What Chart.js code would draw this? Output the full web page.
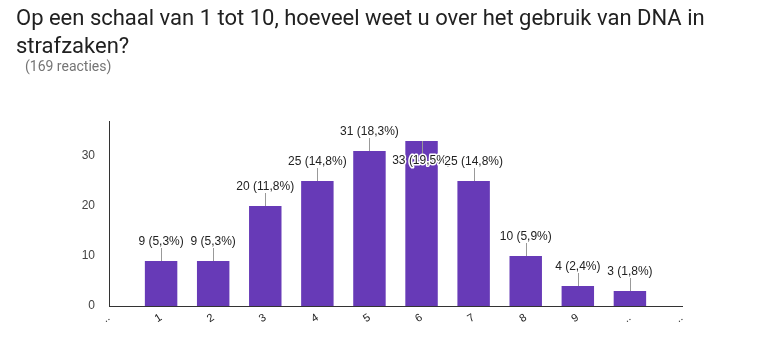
<!DOCTYPE html>
<html>
<head>
<meta charset="utf-8">
<script src="https://cdn.jsdelivr.net/npm/chart.js@4"></script>
<style>
  html, body { margin: 0; padding: 0; background: #fff; }
  #wrap { position: relative; width: 772px; height: 345px; overflow: hidden; }
  #title {
    position: absolute; left: 16px; top: 4px; width: 700px;
    font-family: Roboto, Arial, sans-serif; font-size: 22px; line-height: 28px;
    color: #212121;
  }
  #responses {
    position: absolute; left: 25px; top: 58px;
    font-family: Roboto, Arial, sans-serif; font-size: 14px; color: #757575;
  }
  #chart { position: absolute; left: 0; top: 0; }
</style>
</head>
<body>
<div id="wrap">
  <canvas id="chart" width="772" height="345"></canvas>
  <div id="title">Op een schaal van 1 tot 10, hoeveel weet u over het gebruik van DNA in strafzaken?</div>
  <div id="responses">(169 reacties)</div>
</div>
<script>
// Scores 1..10 and how many people picked each
const categories = ['1', '2', '3', '4', '5', '6', '7', '8', '9', '10'];
const counts = [9, 9, 20, 25, 31, 33, 25, 10, 4, 3];
const totalResponses = 169;
const yTicks = [0, 10, 20, 30];

// the axis runs one step past each end, like the original form summary
const axisLabels = ['..'].concat(categories.map(c => c === '10' ? '..' : c), ['..']);
const barValues = [null].concat(counts, [null]);

const pct = v => (v / totalResponses * 100).toFixed(1).replace('.', ',');

// value labels with a small leader line; if there's no room above, put it inside the bar
const valueLabels = {
  id: 'valueLabels',
  afterDatasetsDraw(chart) {
    const ctx = chart.ctx;
    const area = chart.chartArea;
    const meta = chart.getDatasetMeta(0);
    ctx.save();
    ctx.font = '12px "Liberation Sans", Arial, sans-serif';
    ctx.textAlign = 'center';
    ctx.textBaseline = 'middle';
    meta.data.forEach((bar, i) => {
      const v = barValues[i];
      if (v == null) return;
      const text = v + ' (' + pct(v) + '%)';
      let ty = bar.y - 19;
      let lineEnd = bar.y - 13;
      if (ty - 7 < area.top) {
        ty = bar.y + 20;
        lineEnd = bar.y + 13;
      }
      ctx.strokeStyle = '#999';
      ctx.lineWidth = 1;
      ctx.beginPath();
      ctx.moveTo(Math.round(bar.x) + 0.5, bar.y);
      ctx.lineTo(Math.round(bar.x) + 0.5, lineEnd);
      ctx.stroke();
      ctx.lineJoin = 'round';
      ctx.lineWidth = 3;
      ctx.strokeStyle = '#fff';
      ctx.strokeText(text, bar.x, ty);
      ctx.fillStyle = '#222';
      ctx.fillText(text, bar.x, ty);
    });
    ctx.restore();
  }
};

new Chart(document.getElementById('chart'), {
  type: 'bar',
  data: {
    labels: axisLabels,
    datasets: [{
      data: barValues,
      backgroundColor: '#673ab7',
      borderWidth: 0,
      barPercentage: 1,
      categoryPercentage: 0.623
    }]
  },
  options: {
    responsive: false,
    animation: false,
    layout: { padding: { left: 69, right: 90, top: 121, bottom: 9 } },
    plugins: { legend: { display: false }, tooltip: { enabled: false } },
    scales: {
      x: {
        offset: false,
        grid: { display: false, drawTicks: false },
        border: { display: true, color: '#333', width: 1 },
        ticks: {
          autoSkip: false,
          minRotation: 33,
          maxRotation: 33,
          padding: 5,
          color: '#222',
          font: { family: '"Liberation Sans", Arial, sans-serif', size: 11 }
        },
        afterFit(scale) { scale.height = 30; }
      },
      y: {
        min: 0,
        max: 37,
        grid: { display: false, drawTicks: false },
        border: { display: true, color: '#333', width: 1 },
        afterBuildTicks(scale) { scale.ticks = yTicks.map(v => ({ value: v })); },
        ticks: {
          padding: 14,
          color: '#444',
          font: { family: '"Liberation Sans", Arial, sans-serif', size: 12 }
        },
        afterFit(scale) { scale.width = 40; }
      }
    }
  },
  plugins: [valueLabels]
});
</script>
</body>
</html>
